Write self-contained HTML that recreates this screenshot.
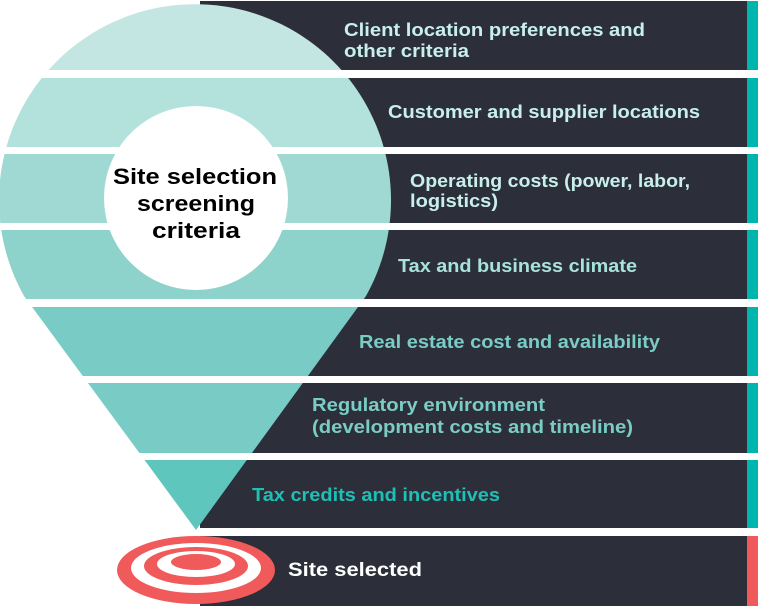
<!DOCTYPE html>
<html><head><meta charset="utf-8"><style>
html,body{margin:0;padding:0;background:#fff;}
svg{display:block;}
text{font-family:"Liberation Sans",sans-serif;font-weight:bold;font-size:18px;}
</style></head><body>
<svg width="758" height="607" viewBox="0 0 758 607">
<defs>
<clipPath id="pin"><path d="M24 296 A196 196 0 1 1 366 296 L196 530 Z"/></clipPath>
</defs>
<g fill="#2c2f3a">
<rect x="200" y="1" width="558" height="69"/>
<rect x="200" y="78" width="558" height="69"/>
<rect x="200" y="154" width="558" height="69"/>
<rect x="200" y="230" width="558" height="69"/>
<rect x="200" y="307" width="558" height="69"/>
<rect x="200" y="383" width="558" height="70"/>
<rect x="200" y="460" width="558" height="68"/>
<rect x="200" y="536" width="558" height="70"/>
</g>
<g fill="#00b5ad">
<rect x="747" y="1" width="11" height="69"/>
<rect x="747" y="78" width="11" height="69"/>
<rect x="747" y="154" width="11" height="69"/>
<rect x="747" y="230" width="11" height="69"/>
<rect x="747" y="307" width="11" height="69"/>
<rect x="747" y="383" width="11" height="70"/>
<rect x="747" y="460" width="11" height="68"/>
</g>
<rect x="747" y="536" width="11" height="70" fill="#f05a5a"/>
<g clip-path="url(#pin)">
<rect x="0" y="0" width="400" height="70" fill="#c4e6e2"/>
<rect x="0" y="78" width="400" height="69" fill="#b3e1dc"/>
<rect x="0" y="154" width="400" height="69" fill="#a0d9d3"/>
<rect x="0" y="230" width="400" height="69" fill="#8dd2cb"/>
<rect x="0" y="307" width="400" height="69" fill="#79ccc5"/>
<rect x="0" y="383" width="400" height="70" fill="#79ccc5"/>
<rect x="0" y="460" width="400" height="70" fill="#5fc6be"/>
</g>
<circle cx="196" cy="198" r="92" fill="#fff"/>
<text x="113" y="184" textLength="164" lengthAdjust="spacingAndGlyphs" style="font-size:22px" fill="#000">Site selection</text>
<text x="137" y="211" textLength="118" lengthAdjust="spacingAndGlyphs" style="font-size:22px" fill="#000">screening</text>
<text x="152" y="238" textLength="88" lengthAdjust="spacingAndGlyphs" style="font-size:22px" fill="#000">criteria</text>
<g fill="#c8efec">
<text x="344" y="36" textLength="301" lengthAdjust="spacingAndGlyphs">Client location preferences and</text>
<text x="344" y="57" textLength="125" lengthAdjust="spacingAndGlyphs">other criteria</text>
<text x="388" y="118" textLength="312" lengthAdjust="spacingAndGlyphs">Customer and supplier locations</text>
<text x="410" y="187" textLength="280" lengthAdjust="spacingAndGlyphs">Operating costs (power, labor,</text>
<text x="410" y="207" textLength="88" lengthAdjust="spacingAndGlyphs">logistics)</text>
</g>
<text x="398" y="272" fill="#a8e2dd" textLength="239" lengthAdjust="spacingAndGlyphs">Tax and business climate</text>
<g fill="#7accc5">
<text x="359" y="348" textLength="301" lengthAdjust="spacingAndGlyphs">Real estate cost and availability</text>
<text x="312" y="411" textLength="233" lengthAdjust="spacingAndGlyphs">Regulatory environment</text>
<text x="312" y="433" textLength="321" lengthAdjust="spacingAndGlyphs">(development costs and timeline)</text>
</g>
<text x="252" y="501" fill="#1ebfb5" textLength="248" lengthAdjust="spacingAndGlyphs">Tax credits and incentives</text>
<ellipse cx="196" cy="570" rx="79" ry="34" fill="#f05a5a"/>
<ellipse cx="196" cy="568" rx="65" ry="25" fill="#fff"/>
<ellipse cx="196" cy="566" rx="52" ry="19" fill="#f05a5a"/>
<ellipse cx="196" cy="564" rx="39" ry="13" fill="#fff"/>
<ellipse cx="196" cy="562" rx="25" ry="8" fill="#f05a5a"/>
<text x="288" y="576" fill="#fff" style="font-size:19px" textLength="134" lengthAdjust="spacingAndGlyphs">Site selected</text>
</svg>
</body></html>
